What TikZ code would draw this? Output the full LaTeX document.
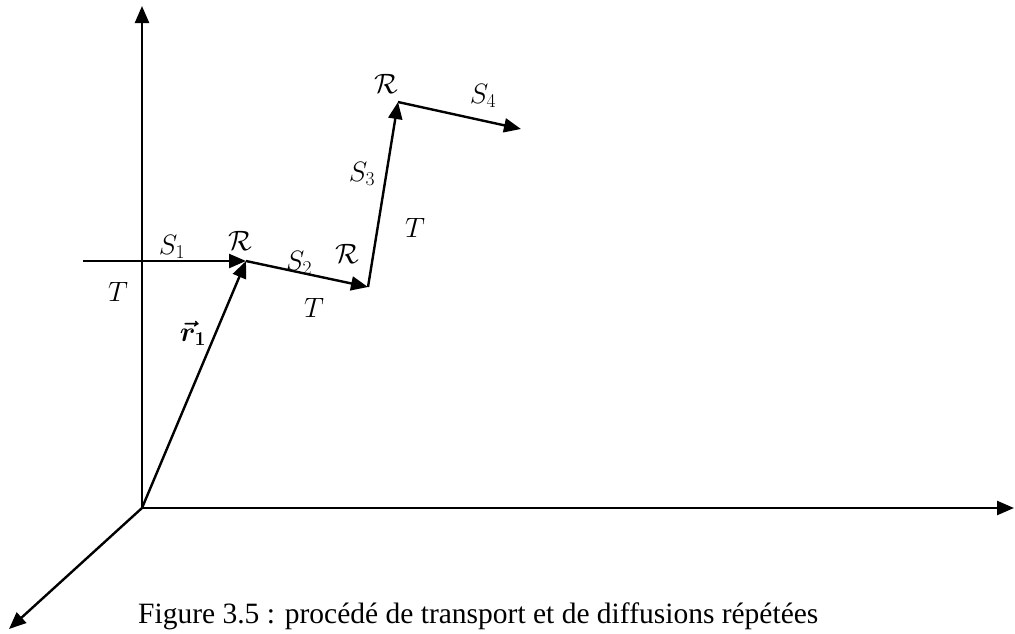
\RequirePackage{fix-cm}
\documentclass[tikz,border=0pt]{standalone}
\usepackage{amsmath,bm}
\usepackage{fontspec}
\setmainfont{Liberation Serif}
\usetikzlibrary{arrows.meta}
\begin{document}
\begin{tikzpicture}[x=1pt,y=-1pt,
  vec/.style={line width=2.4pt,-{Triangle[length=17pt,width=14pt]}},
  axis/.style={line width=2.4pt,-{Triangle[length=17pt,width=14pt]}},
  lbl/.style={inner sep=0pt,font=\fontsize{28}{32}\selectfont},
  captext/.style={inner sep=0pt,anchor=base west,font=\fontsize{29.5}{34}\selectfont}]
\useasboundingbox (0,0) rectangle (1015,633);
% points
\coordinate (O) at (142,508);
\coordinate (Ytop) at (142,6);
\coordinate (Xend) at (1014,508);
\coordinate (Zend) at (9,629);
\coordinate (L) at (83,261);
\coordinate (P1) at (246,261);
\coordinate (P2) at (368,287);
\coordinate (P3) at (398,102);
\coordinate (P4) at (521,129);
% axes
\draw[axis] (O) -- (Ytop);
\draw[axis] (O) -- (Xend);
\draw[axis] (O) -- (Zend);
% path
\draw[vec] (L) -- (P1);
\draw[vec] (O) -- (P1);
\draw[vec] (P1) -- (P2);
\draw[vec] (P2) -- (P3);
\draw[vec] (P3) -- (P4);
% labels
\node[lbl] (s1) at (172,247) {$S_1$};
\node[lbl] (r1) at (240,241) {$\mathcal{R}$};
\node[lbl] (s2) at (299,263) {$S_2$};
\node[lbl] (r2) at (347,254) {$\mathcal{R}$};
\node[lbl] (tl) at (118,292) {$T$};
\node[lbl] (t2) at (314,308) {$T$};
\node[lbl] (vr) at (193,333) {$\bm{\vec{r}_1}$};
\node[lbl] (s3) at (362,174) {$S_3$};
\node[lbl] (t3) at (415,228) {$T$};
\node[lbl] (r3) at (386,84) {$\mathcal{R}$};
\node[lbl] (s4) at (483,96) {$S_4$};
\node[captext] (caption) at (138,623) {Figure 3.5 : procédé de transport et de diffusions répétées};
\end{tikzpicture}
\end{document}
